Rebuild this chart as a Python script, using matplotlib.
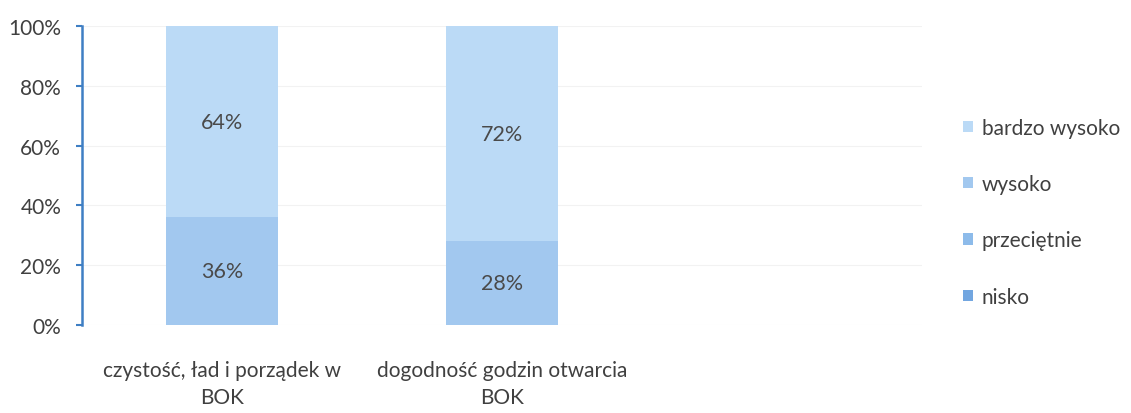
import matplotlib
matplotlib.use("Agg")
import matplotlib.pyplot as plt
import numpy as np

categories = ["czystość, ład i porządek w\nBOK", "dogodność godzin otwarcia\nBOK", ""]
series_names = ["nisko", "przeciętnie", "wysoko", "bardzo wysoko"]
nisko = [0, 0, 0]
przecietnie = [0, 0, 0]
wysoko = [36, 28, 0]
bardzo_wysoko = [64, 72, 0]
yticks = [0, 20, 40, 60, 80, 100]
ytick_labels = ["0%", "20%", "40%", "60%", "80%", "100%"]

colors = {"nisko": "#72A6E0", "przeciętnie": "#8DBBEA", "wysoko": "#A2C8EF", "bardzo wysoko": "#BBDAF6"}

plt.rcParams['font.family'] = ['Lato', 'DejaVu Sans']

fig = plt.figure(figsize=(11.31, 4.14), dpi=100)
ax = fig.add_axes([0.0725, 0.2126, 0.815 - 0.0725, 0.9348 - 0.2126])

x = np.arange(len(categories))
data = [nisko, przecietnie, wysoko, bardzo_wysoko]
bottom = np.zeros(len(categories))
bars = []
for name, vals in zip(series_names, data):
    vals = np.array(vals, dtype=float)
    b = ax.bar(x, vals, 0.4, bottom=bottom, color=colors[name], label=name, zorder=2)
    for xi, v, bt in zip(x, vals, bottom):
        if v > 0:
            ax.text(xi, bt + v / 2, f"{int(v)}%", ha="center", va="center",
                    fontsize=15.5, color="#4A4A4A", zorder=3)
    bottom += vals
    bars.append(b)

ax.set_xlim(-0.5, 2.5)
ax.set_ylim(0, 100)
ax.set_yticks(yticks)
ax.set_yticklabels(ytick_labels, fontsize=15, color="#404040")
ax.set_xticks(x[:2])
ax.set_xticklabels(categories[:2], fontsize=15, color="#404040", linespacing=1.45)
ax.tick_params(axis="x", length=0, pad=25)
ax.tick_params(axis="y", length=4, width=1.5, color="#3F7FC4", pad=11)
ax.yaxis.grid(True, color="#F2F2F2", linewidth=0.8, zorder=0)
for s in ["top", "right", "bottom"]:
    ax.spines[s].set_visible(False)
ax.spines["left"].set_color("#3F7FC4")
ax.spines["left"].set_linewidth(1.8)

handles = bars[::-1]
labels = series_names[::-1]
fig.legend(handles, labels, loc="center left", bbox_to_anchor=(0.835, 0.485),
           frameon=False, fontsize=15, labelcolor="#404040",
           handlelength=0.45, handleheight=0.45, handletextpad=0.45, labelspacing=1.75)

fig.savefig("out.png", dpi=100)
